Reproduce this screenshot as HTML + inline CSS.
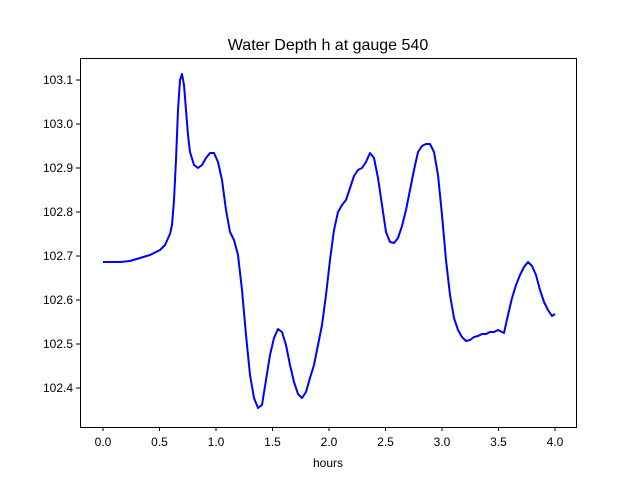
<!DOCTYPE html>
<html><head><meta charset="utf-8"><style>body{margin:0;background:#fff}</style></head><body>
<svg width="640" height="480" xmlns="http://www.w3.org/2000/svg" font-family="Liberation Sans, DejaVu Sans, sans-serif">
<rect width="640" height="480" fill="#fff"/>
<text x="328" y="50" font-size="16" text-anchor="middle">Water Depth h at gauge 540</text>
<polyline fill="none" stroke="#0000ff" stroke-width="2" stroke-linejoin="round" points="103,262 120,262 130,261 140,258 150,255 160,250 165,245 170,234 172,225 174,200 176,160 178,110 180,80 182,74 184,85 186,110 188,135 190,152 194,165 198,168 202,165 206,158 210,153 214,153 218,162 222,180 226,210 230,232 234,240 238,255 242,290 246,335 250,375 254,398 258,408 262,405 266,380 270,355 274,338 278,329 282,332 286,345 290,365 294,382 298,394 302,398 306,392 310,378 314,365 318,345 322,325 326,295 330,260 334,230 338,212 342,205 346,200 350,188 354,176 358,170 362,168 366,162 370,153 374,158 378,178 382,205 386,232 390,242 394,243 398,238 402,226 406,210 410,190 414,170 418,152 422,146 426,144 430,144 434,152 438,175 442,215 446,260 450,295 454,318 458,330 462,337 466,341 470,340 474,337 478,336 482,334 486,334 490,332 494,332 498,330 502,332 504,333 508,315 512,298 516,285 520,275 524,267 528,262 532,266 536,275 540,290 544,302 548,310 552,316 555,314"/>
<rect x="80.5" y="58.5" width="496" height="369" fill="none" stroke="#000" stroke-width="1"/>
<g stroke="#000" stroke-width="1">
<line x1="103" y1="427" x2="103" y2="431"/><line x1="159.5" y1="427" x2="159.5" y2="431"/><line x1="216" y1="427" x2="216" y2="431"/><line x1="272.5" y1="427" x2="272.5" y2="431"/><line x1="329" y1="427" x2="329" y2="431"/><line x1="385.5" y1="427" x2="385.5" y2="431"/><line x1="442" y1="427" x2="442" y2="431"/><line x1="498.5" y1="427" x2="498.5" y2="431"/><line x1="555" y1="427" x2="555" y2="431"/>
<line x1="76" y1="80" x2="80" y2="80"/><line x1="76" y1="124" x2="80" y2="124"/><line x1="76" y1="168" x2="80" y2="168"/><line x1="76" y1="212" x2="80" y2="212"/><line x1="76" y1="256" x2="80" y2="256"/><line x1="76" y1="300" x2="80" y2="300"/><line x1="76" y1="344" x2="80" y2="344"/><line x1="76" y1="388" x2="80" y2="388"/>
</g>
<g font-size="12" text-anchor="middle">
<text x="103" y="446">0.0</text><text x="159.5" y="446">0.5</text><text x="216" y="446">1.0</text><text x="272.5" y="446">1.5</text><text x="329" y="446">2.0</text><text x="385.5" y="446">2.5</text><text x="442" y="446">3.0</text><text x="498.5" y="446">3.5</text><text x="555" y="446">4.0</text>
<text x="328" y="467">hours</text>
</g>
<g font-size="12" text-anchor="end">
<text x="73" y="84">103.1</text><text x="73" y="128">103.0</text><text x="73" y="172">102.9</text><text x="73" y="216">102.8</text><text x="73" y="260">102.7</text><text x="73" y="304">102.6</text><text x="73" y="348">102.5</text><text x="73" y="392">102.4</text>
</g>
</svg>
</body></html>
